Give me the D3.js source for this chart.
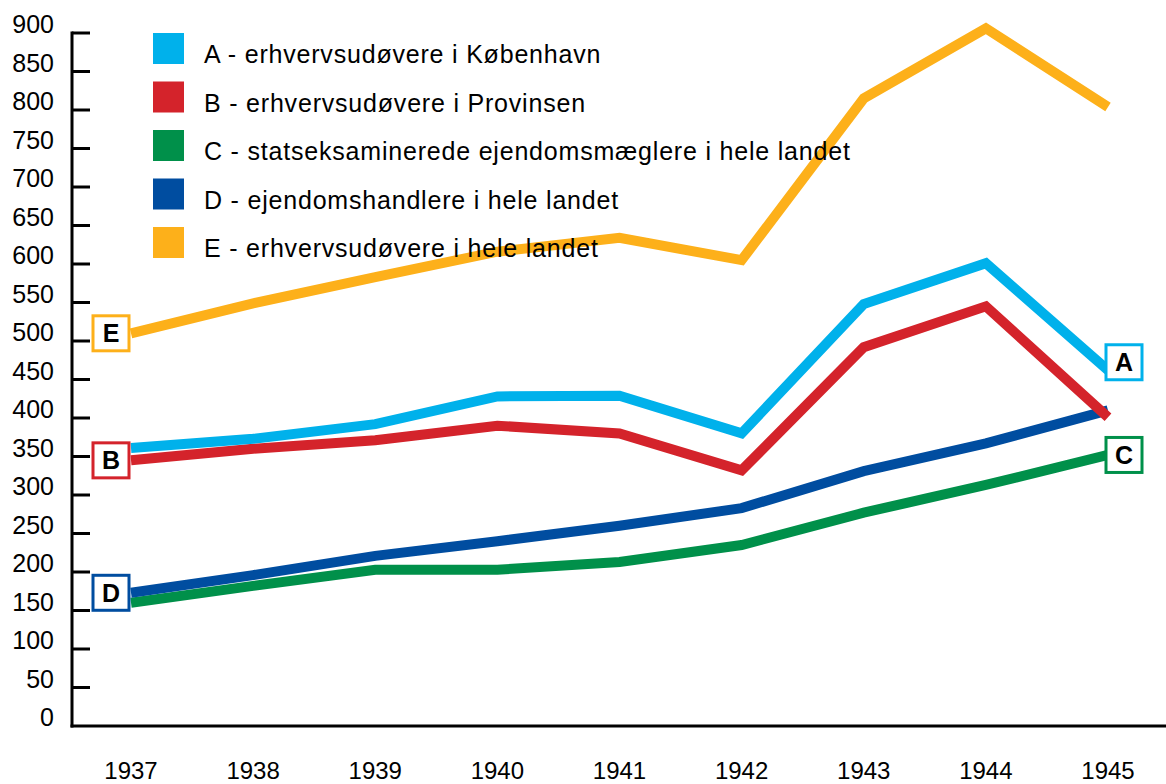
<!DOCTYPE html>
<html>
<head>
<meta charset="utf-8">
<script src="https://cdn.jsdelivr.net/npm/d3@7"></script>
<style>
  body { margin: 0; background: #fff; }
  svg { display: block; font-family: "Liberation Sans", Arial, Helvetica, sans-serif; }
</style>
</head>
<body>
<svg id="chart" width="1166" height="784"></svg>
<script>
var years = [1937, 1938, 1939, 1940, 1941, 1942, 1943, 1944, 1945];
var yTicks = [0, 50, 100, 150, 200, 250, 300, 350, 400, 450, 500, 550, 600, 650, 700, 750, 800, 850, 900];

var seriesA = [361, 373, 392, 428, 429, 380, 548, 601, 462];
var seriesB = [345, 360, 371, 390, 380, 332, 492, 545, 401];
var seriesC = [160, 182, 203, 203, 213, 235, 277, 313, 352];
var seriesD = [173, 196, 221, 240, 260, 283, 331, 367, 410];
var seriesE = [510, 549, 583, 616, 634, 605, 815, 906, 804];

var letters = ["A", "B", "C", "D", "E"];
var names = [
    "A - erhvervsudøvere i København",
    "B - erhvervsudøvere i Provinsen",
    "C - statseksaminerede ejendomsmæglere i hele landet",
    "D - ejendomshandlere i hele landet",
    "E - erhvervsudøvere i hele landet"
];
var colors = ["#00b1eb", "#d4232b", "#00904a", "#004da0", "#fdb01a"];
// which end of the line carries the letter box
var boxSide = ["end", "start", "end", "start", "start"];

var svg = d3.select("#chart");

var x = d3.scalePoint().domain(years).range([131, 1108]);
var y = d3.scaleLinear().domain([0, 900]).range([726, 33]);

// axes
var axisG = svg.append("g");
axisG.append("line")
    .attr("x1", 72).attr("x2", 72)
    .attr("y1", y(900) - 1.5).attr("y2", y(0) + 1.5)
    .attr("stroke", "#000").attr("stroke-width", 3);
axisG.append("line")
    .attr("x1", 70.5).attr("x2", 1166)
    .attr("y1", y(0)).attr("y2", y(0))
    .attr("stroke", "#000").attr("stroke-width", 3);

axisG.selectAll(".tick")
    .data(yTicks.filter(function(d) { return d > 0; }))
    .enter().append("line")
    .attr("x1", 72).attr("x2", 90)
    .attr("y1", function(d) { return y(d); })
    .attr("y2", function(d) { return y(d); })
    .attr("stroke", "#000").attr("stroke-width", 3);

axisG.selectAll(".ylab")
    .data(yTicks)
    .enter().append("text")
    .attr("x", 54)
    .attr("y", function(d) { return y(d); })
    .attr("text-anchor", "end")
    .style("font-size", "25px")
    .text(function(d) { return d; });

axisG.selectAll(".xlab")
    .data(years)
    .enter().append("text")
    .attr("x", function(d) { return x(d); })
    .attr("y", 779)
    .attr("text-anchor", "middle")
    .style("font-size", "24px")
    .text(function(d) { return d; });

// lines
var allSeries = [seriesA, seriesB, seriesC, seriesD, seriesE];
var line = d3.line()
    .x(function(d, i) { return x(years[i]); })
    .y(function(d) { return y(d); });

var drawOrder = [2, 3, 1, 0, 4];
drawOrder.forEach(function(k) {
    svg.append("path")
        .attr("d", line(allSeries[k]))
        .attr("fill", "none")
        .attr("stroke", colors[k])
        .attr("stroke-width", 10)
        .attr("stroke-linejoin", "miter")
        .attr("stroke-linecap", "butt");
});

// legend
var legend = svg.append("g");
names.forEach(function(n, i) {
    var ly = 33 + i * 48.5;
    legend.append("rect")
        .attr("x", 153).attr("y", ly)
        .attr("width", 31).attr("height", 31)
        .attr("fill", colors[i]);
    legend.append("text")
        .attr("x", 204).attr("y", ly + 30)
        .style("font-size", "25px")
        .style("letter-spacing", "0.8px")
        .attr("fill", "#000")
        .text(n);
});

// letter boxes
letters.forEach(function(l, i) {
    var s = allSeries[i];
    var cx, cy;
    if (boxSide[i] === "start") {
        cx = x(years[0]) - 20;
        cy = y(s[0]);
    } else {
        cx = x(years[years.length - 1]) + 16;
        cy = y(s[s.length - 1]);
        if (l === "A") cy -= 8;
    }
    svg.append("rect")
        .attr("x", cx - 18).attr("y", cy - 17.5)
        .attr("width", 36).attr("height", 35)
        .attr("fill", "#fff")
        .attr("stroke", colors[i])
        .attr("stroke-width", 3);
    svg.append("text")
        .attr("x", cx).attr("y", cy + 9)
        .attr("text-anchor", "middle")
        .style("font-size", "25px")
        .style("font-weight", "bold")
        .text(l);
});
</script>
</body>
</html>
